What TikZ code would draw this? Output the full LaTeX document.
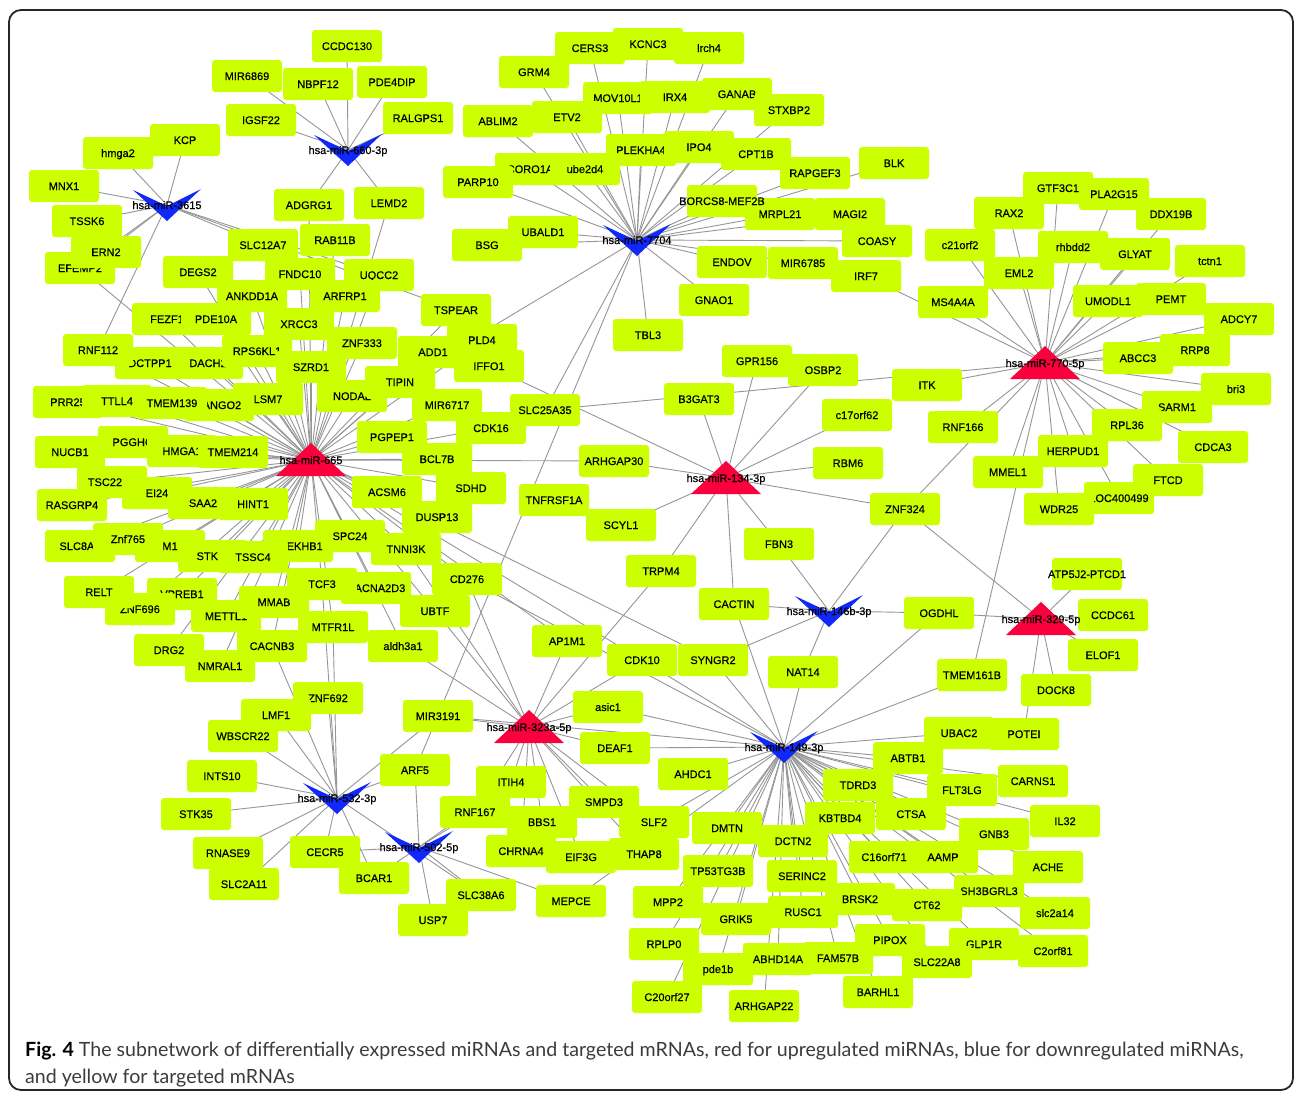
\documentclass[tikz,border=0pt]{standalone}
\usepackage{fontspec}
\setmainfont{Liberation Sans}
\newfontfamily\labfont[FakeBold=0.35]{Liberation Sans}
\newfontfamily\capfont{Lato}
\usetikzlibrary{backgrounds}
\definecolor{genecol}{RGB}{204,255,0}
\definecolor{upred}{RGB}{250,0,60}
\definecolor{downblue}{RGB}{16,40,250}
\definecolor{edgecol}{RGB}{150,150,150}
\definecolor{capgray}{RGB}{60,60,60}
\tikzset{
  gene/.style={fill=genecol, rounded corners=3pt, minimum width=70pt, minimum height=32pt,
    inner sep=0pt, text height=8pt, text depth=0pt, font=\labfont\fontsize{11}{11}\selectfont},
  hublab/.style={inner sep=0pt, text height=8pt, text depth=0pt, font=\labfont\fontsize{11}{11}\selectfont},
  edge/.style={draw=edgecol, line width=0.9pt},
}
\newcommand\gn[2]{\node[gene] (#1) at (#2) {\makebox[0pt]{#1}};}
\newcommand\gnl[3]{\node[gene] (#1) at (#2) {\makebox[0pt]{#3}};}
\newcommand\uphub[4]{\fill[upred] (#2,#3-17) -- (#2+35,#3+16) -- (#2-35,#3+16) -- cycle;
  \node[hublab] (#1) at (#2,#3) {#4};}
\newcommand\downhub[4]{\fill[downblue] (#2-34,#3-15) -- (#2,#3+1) -- (#2+34,#3-16) -- (#2,#3+16) -- cycle;
  \node[hublab] (#1) at (#2,#3) {#4};}
\newcommand\links[2]{\foreach \x in {#2}{\draw[edge] (\x.center) -- (#1.center);}}
\begin{document}
\begin{tikzpicture}[x=1pt,y=-1pt]
\useasboundingbox (0,0) rectangle (1295,1092);
% ---------- top left
\gn{CCDC130}{347,46}
\gn{MIR6869}{247,76}
\gn{NBPF12}{318,84}
\gn{PDE4DIP}{392,82}
\gn{IGSF22}{261,120}
\gn{RALGPS1}{418,118}
\gn{KCP}{185,140}
\gn{hmga2}{118,153}
\gn{MNX1}{64,186}
\gn{TSSK6}{87,221}
\gn{EFEMP2}{80,268}
\gn{ERN2}{106,252}
\gn{ADGRG1}{309,205}
\gn{LEMD2}{389,203}
\gn{SLC12A7}{263,245}
\gn{RAB11B}{335,240}
\gn{DEGS2}{198,272}
\gn{FNDC10}{300,274}
\gn{UQCC2}{379,275}
\gn{ANKDD1A}{252,296}
\gn{ARFRP1}{345,296}
\gn{FEZF1}{167,319}
\gn{PDE10A}{216,319}
\gn{XRCC3}{299,324}
\gn{TSPEAR}{456,310}
\gn{ZNF333}{362,343}
\gn{DCTPP1}{150,363}
\gn{RNF112}{98,350}
\gn{DACH2}{208,363}
\gn{RPS6KL1}{257,351}
\gn{SZRD1}{311,367}
\gn{PLD4}{482,340}
\gn{ADD1}{433,352}
\gn{IFFO1}{489,366}
\gn{NODAL}{352,396}
\gn{TIPIN}{400,382}
\gn{PRR25}{68,402}
\gn{TTLL4}{117,401}
\gn{LSM7}{268,399}
\gn{TANGO2}{219,405}
\gn{TMEM139}{172,403}
\gn{MIR6717}{447,405}
\gn{CDK16}{491,428}
\gn{NUCB1}{70,452}
\gn{PGGHG}{133,442}
\gn{HMGA1}{182,451}
\gn{TMEM214}{233,452}
\gn{PGPEP1}{392,437}
\gn{BCL7B}{437,459}
\gn{TSC22D1}{112,482}
\gn{RASGRP4}{72,505}
\gn{EI24}{157,493}
\gn{SAA2}{203,503}
\gn{HINT1}{253,504}
\gn{ACSM6}{387,492}
\gn{SDHD}{471,488}
\gn{DUSP13}{437,517}
\gn{SLC8A1}{80,546}
\gn{M1}{170,546}
\gn{Znf765}{128,539}
\gn{STK11}{213,556}
\gn{SPC24}{350,536}
\gn{PLEKHB1}{298,546}
\gn{TSSC4}{253,557}
\gn{TNNI3K}{406,549}
\gn{CD276}{467,579}
\gn{VPREB1}{182,594}
\gn{ZNF696}{140,609}
\gn{RELT}{99,592}
\gn{METTL1}{226,616}
\gn{MMAB}{274,602}
\gn{CACNA2D3}{376,588}
\gn{TCF3}{322,584}
\gn{UBTF}{435,611}
\gn{MTFR1L}{333,627}
\gn{aldh3a1}{403,646}
\gn{DRG2}{169,650}
\gn{NMRAL1}{220,666}
\gn{CACNB3}{272,646}
% ---------- lower left
\gn{ZNF692}{328,698}
\gn{LMF1}{276,715}
\gn{WBSCR22}{243,736}
\gn{MIR3191}{438,716}
\gn{INTS10}{222,776}
\gn{ARF5}{415,770}
\gn{STK35}{196,814}
\gn{RNASE9}{228,853}
\gn{SLC2A11}{244,884}
\gn{CECR5}{325,852}
\gn{BCAR1}{374,878}
\gn{USP7}{433,920}
% ---------- lower middle
\gn{SMPD3}{604,802}
\gn{SLF2}{654,822}
\gn{ITIH4}{511,782}
\gn{RNF167}{475,812}
\gn{BBS1}{542,822}
\gn{CHRNA4}{521,851}
\gn{THAP8}{644,854}
\gn{EIF3G}{581,857}
\gn{SLC38A6}{481,895}
\gn{MEPCE}{571,901}
\gn{DEAF1}{615,748}
\gn{asic1}{608,707}
\gn{AP1M1}{567,641}
\gn{CDK10}{642,660}
\gn{SYNGR2}{713,660}
\gn{TRPM4}{661,571}
\gn{CACTIN}{734,604}
\gn{FBN3}{779,544}
\gn{NAT14}{803,672}
\gn{AHDC1}{693,774}
% ---------- top middle
\gn{CERS3}{590,48}
\gn{lrch4}{709,48}
\gn{KCNC3}{648,44}
\gn{GRM4}{534,72}
\gn{MOV10L1}{618,98}
\gn{IRX4}{675,97}
\gn{GANAB}{737,94}
\gn{STXBP2}{789,110}
\gn{ABLIM2}{498,121}
\gn{ETV2}{567,117}
\gn{PLEKHA4}{641,150}
\gn{IPO4}{699,147}
\gn{CPT1B}{756,154}
\gn{RAPGEF3}{815,173}
\gn{BLK}{894,163}
\gn{CORO1A}{530,169}
\gn{ube2d4}{585,169}
\gn{PARP10}{478,182}
\gn{MRPL21}{780,214}
\gnl{BORCS}{722,201}{BORCS8-MEF2B}
\gn{MAGI2}{850,214}
\gn{COASY}{877,241}
\gn{UBALD1}{543,232}
\gn{BSG}{487,245}
\gn{ENDOV}{732,262}
\gn{MIR6785}{803,263}
\gn{IRF7}{866,276}
\gn{GNAO1}{714,300}
\gn{TBL3}{648,335}
% ---------- top right
\gn{GTF3C1}{1058,188}
\gn{PLA2G15}{1114,194}
\gn{RAX2}{1009,213}
\gn{DDX19B}{1171,214}
\gn{c21orf2}{960,245}
\gn{rhbdd2}{1073,247}
\gn{GLYAT}{1135,254}
\gn{tctn1}{1210,261}
\gn{EML2}{1019,273}
\gn{MS4A4A}{953,302}
\gn{UMODL1}{1108,301}
\gn{PEMT}{1171,299}
\gn{ADCY7}{1239,319}
\gn{RRP8}{1195,350}
\gn{ABCC3}{1138,358}
\gn{bri3}{1236,389}
\gn{ITK}{927,385}
\gn{SARM1}{1177,407}
\gn{RPL36}{1127,425}
\gn{c17orf62}{857,415}
\gn{RNF166}{963,427}
\gn{CDCA3}{1213,447}
\gn{HERPUD1}{1073,451}
\gn{MMEL1}{1008,472}
\gn{RBM6}{848,463}
\gn{FTCD}{1168,480}
\gn{LOC400499}{1119,498}
\gn{WDR25}{1059,509}
\gn{ZNF324}{905,509}
\gn{GPR156}{757,361}
\gn{OSBP2}{823,370}
\gn{B3GAT3}{699,399}
\gn{SLC25A35}{545,410}
\gn{ARHGAP30}{614,461}
\gn{TNFRSF1A}{554,500}
\gn{SCYL1}{621,525}
% ---------- lower right
\gn{OGDHL}{939,613}
\gnl{ATPPTCD}{1087,574}{ATP5J2-PTCD1}
\gn{CCDC61}{1113,615}
\gn{ELOF1}{1103,655}
\gn{TMEM161B}{972,675}
\gn{DOCK8}{1056,690}
\gn{UBAC2}{959,733}
\gn{POTEI}{1024,734}
\gn{ABTB1}{908,758}
\gn{CARNS1}{1033,781}
\gn{TDRD3}{858,785}
\gn{FLT3LG}{962,790}
\gn{IL32}{1065,821}
\gn{KBTBD4}{840,818}
\gn{CTSA}{911,814}
\gn{GNB3}{994,834}
\gn{DMTN}{727,828}
\gn{DCTN2}{793,841}
\gn{C16orf71}{884,857}
\gn{AAMP}{943,857}
\gn{ACHE}{1048,867}
\gn{TP53TG3B}{718,871}
\gn{SERINC2}{802,876}
\gn{SH3BGRL3}{989,891}
\gn{BRSK2}{860,899}
\gn{CT62}{927,905}
\gn{slc2a14}{1055,913}
\gn{MPP2}{668,902}
\gn{GRIK5}{736,919}
\gn{RUSC1}{803,912}
\gn{PIPOX}{890,940}
\gn{GLP1R}{984,944}
\gn{C2orf81}{1053,951}
\gn{RPLP0}{664,944}
\gn{pde1b}{718,969}
\gn{ABHD14A}{778,959}
\gn{FAM57B}{838,958}
\gn{SLC22A8}{937,962}
\gn{BARHL1}{878,992}
\gn{C20orf27}{667,997}
\gn{ARHGAP22}{764,1006}
% ---------- hubs
\uphub{h665}{311}{460}{hsa-miR-665}
\uphub{h770}{1045}{363}{hsa-miR-770-5p}
\uphub{h134}{726}{478}{hsa-miR-134-3p}
\uphub{h323a}{529}{727}{hsa-miR-323a-5p}
\uphub{h329}{1041}{619}{hsa-miR-329-5p}
\downhub{h660}{348}{150}{hsa-miR-660-3p}
\downhub{h3615}{167}{205}{hsa-miR-3615}
\downhub{h7704}{637}{240}{hsa-miR-7704}
\downhub{h146b}{829}{611}{hsa-miR-146b-3p}
\downhub{h149}{784}{747}{hsa-miR-149-3p}
\downhub{h532}{337}{798}{hsa-miR-532-3p}
\downhub{h502}{419}{847}{hsa-miR-502-5p}
% ---------- caption and frame
\node[anchor=base west, inner sep=0pt, font=\capfont\fontsize{19.6}{19.6}\selectfont, text=capgray] (cap1) at (25,1056)
  {\textcolor{black}{\textbf{Fig. 4}} The subnetwork of differentially expressed miRNAs and targeted mRNAs, red for upregulated miRNAs, blue for downregulated miRNAs,};
\node[anchor=base west, inner sep=0pt, font=\capfont\fontsize{19.6}{19.6}\selectfont, text=capgray] (cap2) at (25,1083)
  {and yellow for targeted mRNAs};
\draw[line width=1.8pt, black!85, rounded corners=12pt] (9,10) rectangle (1293,1090);
% ---------- edges
\begin{pgfonlayer}{background}
\fill[white] (0,0) rectangle (1295,1092);
\links{h660}{CCDC130,MIR6869,NBPF12,PDE4DIP,IGSF22,RALGPS1,ADGRG1,LEMD2}
\links{h3615}{KCP,hmga2,MNX1,TSSK6,ERN2,EFEMP2,SLC12A7,UQCC2,TSPEAR,RNF112}
\links{h7704}{CERS3,KCNC3,lrch4,GRM4,MOV10L1,IRX4,GANAB,STXBP2,ABLIM2,ETV2,PLEKHA4,IPO4,CPT1B,RAPGEF3,BLK,CORO1A,ube2d4,PARP10,BORCS,MRPL21,MAGI2,COASY,UBALD1,BSG,ENDOV,MIR6785,GNAO1,TBL3,TIPIN,SLC25A35,ARF5}
\links{h770}{GTF3C1,PLA2G15,RAX2,DDX19B,c21orf2,rhbdd2,GLYAT,tctn1,EML2,MS4A4A,IRF7,UMODL1,PEMT,ADCY7,ABCC3,RRP8,bri3,ITK,SARM1,RPL36,RNF166,CDCA3,HERPUD1,MMEL1,FTCD,LOC400499,WDR25,ZNF324,TMEM161B,SLC25A35}
\links{h134}{GPR156,OSBP2,B3GAT3,c17orf62,RBM6,ARHGAP30,SCYL1,FBN3,TRPM4,CACTIN,IFFO1,ZNF324}
\links{h665}{SLC12A7,RAB11B,DEGS2,FNDC10,UQCC2,ANKDD1A,ARFRP1,FEZF1,PDE10A,XRCC3,TSPEAR,ZNF333,RNF112,DCTPP1,DACH2,RPS6KL1,SZRD1,ADD1,PLD4,TIPIN,NODAL,PRR25,TTLL4,TMEM139,TANGO2,LSM7,MIR6717,CDK16,NUCB1,PGGHG,HMGA1,TMEM214,PGPEP1,BCL7B,ARHGAP30,TSC22D1,EI24,SAA2,HINT1,ACSM6,SDHD,DUSP13,RASGRP4,SLC8A1,Znf765,M1,STK11,TSSC4,PLEKHB1,SPC24,TNNI3K,CD276,RELT,VPREB1,ZNF696,METTL1,MMAB,TCF3,CACNA2D3,UBTF,MTFR1L,DRG2,NMRAL1,CACNB3,ADGRG1,LEMD2,EFEMP2,AP1M1,CDK10,SYNGR2,aldh3a1}
\links{h532}{ZNF692,LMF1,WBSCR22,INTS10,STK35,RNASE9,SLC2A11,CECR5,BCAR1,ARF5,MIR3191,MTFR1L,TCF3,CACNB3,SLC38A6}
\links{h502}{CECR5,BCAR1,USP7,SLC38A6,MEPCE,ARF5,RNF167,ITIH4}
\links{h323a}{ITIH4,RNF167,BBS1,CHRNA4,EIF3G,SMPD3,SLF2,THAP8,DEAF1,asic1,CDK10,AP1M1,UBTF,CD276,aldh3a1,TRPM4,TNNI3K,MIR3191}
\links{h146b}{FBN3,CACTIN,NAT14,OGDHL,ZNF324,SYNGR2}
\links{h329}{ATPPTCD,CCDC61,ELOF1,DOCK8,POTEI,ZNF324,OGDHL}
\links{h149}{AHDC1,ABTB1,CARNS1,TDRD3,FLT3LG,IL32,KBTBD4,CTSA,GNB3,DMTN,DCTN2,C16orf71,AAMP,ACHE,TP53TG3B,SERINC2,SH3BGRL3,BRSK2,CT62,slc2a14,MPP2,GRIK5,RUSC1,PIPOX,GLP1R,C2orf81,RPLP0,pde1b,ABHD14A,FAM57B,SLC22A8,BARHL1,C20orf27,ARHGAP22,UBAC2,TMEM161B,OGDHL,CACTIN,SYNGR2,CDK10,NAT14,asic1,MEPCE,SLF2,MIR3191,CD276,DEAF1}
\end{pgfonlayer}
\end{tikzpicture}
\end{document}
